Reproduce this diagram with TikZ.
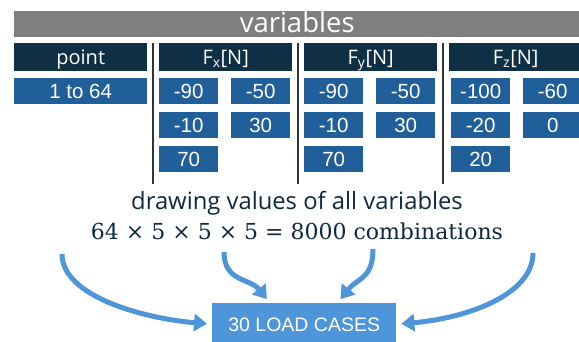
\documentclass[tikz,border=0pt]{standalone}
\usepackage{fontspec}
\usepackage{tikz}
\usetikzlibrary{arrows.meta}
\newfontfamily\labelfont{Open Sans}
\newfontfamily\valuefont{Liberation Sans}
\newfontfamily\mathsfont{DejaVu Serif}
\definecolor{mygray}{RGB}{127,127,127}
\definecolor{mynavy}{RGB}{14,47,68}
\definecolor{mydarkblue}{RGB}{33,95,154}
\definecolor{mylightblue}{RGB}{78,149,217}
\definecolor{mytext}{RGB}{14,40,65}
\newcommand{\widthvalue}{59pt}
\newcommand{\widthhead}{133pt}
\tikzset{
    common/.style={anchor=north west, inner sep=0pt, text=white, text depth=0pt},
    head/.style={common, fill=mynavy, minimum width=\widthhead, minimum height=28pt,
        text height=14.2pt, font=\labelfont\fontsize{20}{20}\selectfont},
    value/.style={common, fill=mydarkblue, minimum width=\widthvalue, minimum height=26pt,
        text height=14.8pt, font=\valuefont\fontsize{20.5}{20.5}\selectfont},
    divider/.style={draw=black!80, line width=1.3pt},
    flow/.style={draw=mylightblue, line width=5pt, -{Triangle[length=13pt,width=17pt]}, shorten >=5pt}
}

\begin{document}
\begin{tikzpicture}[x=1pt, y=-1pt]
    \useasboundingbox (0,0) rectangle (579,342);

    % title bar
    \node[common, fill=mygray, minimum width=566pt, minimum height=26pt, text height=19.5pt,
        text depth=3.5pt, font=\labelfont\fontsize{27.5}{27.5}\selectfont] (title) at (14,11) {variables};

    % headers
    \node[head] (point) at (14,43) {point};
    \node[head] (fx) at (159,43) {F\textsubscript{x}[N]};
    \node[head] (fy) at (304,43) {F\textsubscript{y}[N]};
    \node[head] (fz) at (449,43) {F\textsubscript{z}[N]};

    % values
    \node[value, minimum width=\widthhead] (pointval) at (14,78) {1 to 64};
    \path (159,78) node[value] (fx1) {-90}
        ++(72,0) node[value] (fx2) {-50}
        ++(-72,34) node[value] (fx3) {-10}
        ++(72,0) node[value] (fx4) {30}
        ++(-72,34) node[value] (fx5) {70};
    \path (304,78) node[value] (fy1) {-90}
        ++(72,0) node[value] (fy2) {-50}
        ++(-72,34) node[value] (fy3) {-10}
        ++(72,0) node[value] (fy4) {30}
        ++(-72,34) node[value] (fy5) {70};
    \path (451,78) node[value] (fz1) {-100}
        ++(72,0) node[value] (fz2) {-60}
        ++(-72,34) node[value] (fz3) {-20}
        ++(72,0) node[value] (fz4) {0}
        ++(-72,34) node[value] (fz5) {20};

    \draw[divider] (153,43) -- (153,184);
    \draw[divider] (298,43) -- (298,184);
    \draw[divider] (443,43) -- (443,184);

    % combinations
    \node[anchor=base, text=mytext, inner sep=0pt, font=\labelfont\fontsize{23.8}{23.8}\selectfont]
        (drawing) at (297,210) {drawing values of all variables};
    \node[anchor=base, text=mytext, inner sep=0pt, font=\mathsfont\fontsize{22}{22}\selectfont]
        (combos) at (297,240) {64 × 5 × 5 × 5 = 8000 combinations};

    \node[common, fill=mylightblue, minimum width=184pt, minimum height=42pt, text height=14pt,
        font=\valuefont\fontsize{19.5}{19.5}\selectfont] (load) at (212,303) {30 LOAD CASES};

    \coordinate (fromleft) at (62,254);
    \coordinate (fromx) at (224,252);
    \coordinate (fromy) at (373,249);
    \coordinate (fromright) at (533,253);

    \draw[flow] (fromleft) .. controls +(0,42) and +(-70,-6) .. (load.west);
    \draw[flow] (fromright) .. controls +(0,42) and +(70,-6) .. (load.east);
    \draw[flow] (fromx) .. controls +(0,30) and +(-20,-25) .. ([xshift=58pt]load.north west);
    \draw[flow] (fromy) .. controls +(0,30) and +(20,-25) .. ([xshift=-59pt]load.north east);
\end{tikzpicture}
\end{document}
